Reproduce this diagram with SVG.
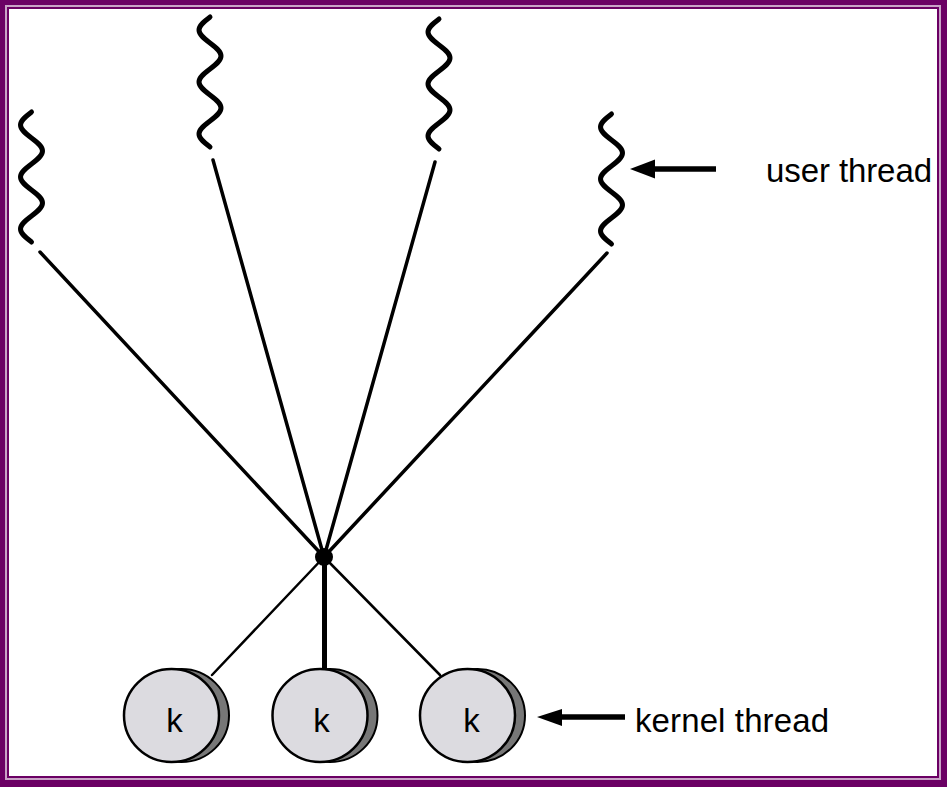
<svg xmlns="http://www.w3.org/2000/svg" xmlns:xlink="http://www.w3.org/1999/xlink" width="947" height="787" viewBox="0 0 947 787">
<style>
.sq{fill:none;stroke:#000;stroke-width:5;stroke-linecap:round;stroke-linejoin:round}
.up{stroke:#000;stroke-width:3.5;stroke-linecap:round}
.dn{stroke:#000;stroke-width:2.5;stroke-linecap:round}
.back{fill:#777;stroke:#000;stroke-width:2}
.front{fill:#dcdbe0;stroke:#000;stroke-width:2.5}
.lbl{font-family:"Liberation Sans",Arial,sans-serif;font-size:33px;fill:#000}
.arr{stroke:#000;stroke-width:5.5}
</style>
<defs>
<path id="squig" class="sq" d="M0,0 c-5.7,4.33 -11,8.3 -11,13 c0,9.4 22,16.6 22,26 c0,9.4 -22,16.6 -22,26 c0,9.4 22,16.6 22,26 c0,9.4 -22,16.6 -22,26 c0,4.7 5.3,8.67 11,13"/>
</defs>
<g id="frame">
<rect x="0" y="0" width="947" height="787" fill="#6b0064"/>
<rect x="5" y="5" width="936" height="775" fill="#c9a3c6"/>
<rect x="7" y="7" width="932" height="771" fill="#6b0064"/>
<rect x="9" y="9" width="928" height="767" fill="#fff"/>
</g>
<g id="connectors">
<line class="up" x1="40" y1="252" x2="324" y2="557"/>
<line class="up" x1="213" y1="160" x2="324" y2="557"/>
<line class="up" x1="435" y1="162" x2="324" y2="557"/>
<line class="up" x1="607" y1="253" x2="324" y2="557"/>
<line class="dn" x1="324" y1="557" x2="212" y2="675"/>
<line stroke="#000" stroke-width="5" x1="324.5" y1="557" x2="324.5" y2="670"/>
<line class="dn" x1="324" y1="557" x2="440" y2="675"/>
<circle id="hub" cx="324" cy="557" r="9" fill="#000"/>
</g>
<g id="user1"><use xlink:href="#squig" href="#squig" x="31.5" y="112"/></g>
<g id="user2"><use xlink:href="#squig" href="#squig" x="210" y="17"/></g>
<g id="user3"><use xlink:href="#squig" href="#squig" x="439" y="19"/></g>
<g id="user4"><use xlink:href="#squig" href="#squig" x="611.5" y="114"/></g>
<g id="kernel1">
<ellipse class="back" cx="181.5" cy="715.5" rx="47.5" ry="46.5"/>
<ellipse class="front" cx="171.5" cy="715.5" rx="47.5" ry="46.5"/>
<text class="lbl" x="174.5" y="732" text-anchor="middle">k</text>
</g>
<g id="kernel2">
<ellipse class="back" cx="330" cy="715.5" rx="47.5" ry="46.5"/>
<ellipse class="front" cx="320" cy="715.5" rx="47.5" ry="46.5"/>
<text class="lbl" x="321.5" y="732" text-anchor="middle">k</text>
</g>
<g id="kernel3">
<ellipse class="back" cx="477.5" cy="715.5" rx="47.5" ry="46.5"/>
<ellipse class="front" cx="467.5" cy="715.5" rx="47.5" ry="46.5"/>
<text class="lbl" x="471.5" y="732" text-anchor="middle">k</text>
</g>
<g id="label-user">
<line class="arr" x1="716" y1="169" x2="650" y2="169"/>
<polygon points="630,169 655,159.5 655,178.5" fill="#000"/>
<text class="lbl" x="766" y="182" textLength="166">user thread</text>
</g>
<g id="label-kernel">
<line class="arr" x1="625" y1="717" x2="558" y2="717"/>
<polygon points="537,717 562,709 562,726" fill="#000"/>
<text class="lbl" x="635" y="732" textLength="194">kernel thread</text>
</g>
</svg>
